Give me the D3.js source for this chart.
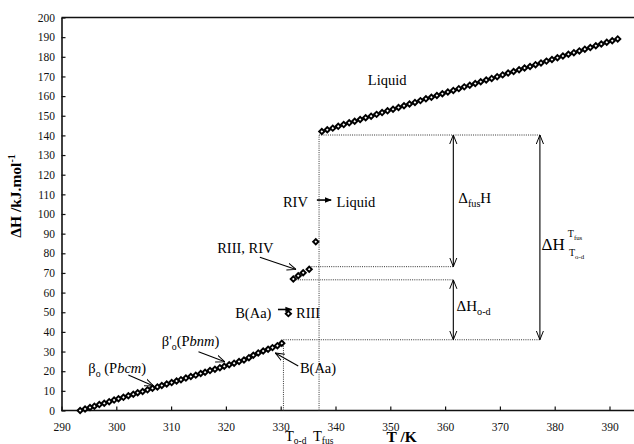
<!DOCTYPE html>
<html>
<head>
<meta charset="utf-8">
<script src="https://cdn.jsdelivr.net/npm/d3@7"></script>
<style>
  body { margin: 0; background: #fff; }
  svg { display: block; }
  text { font-family: "Liberation Serif", "DejaVu Serif", serif; }
</style>
</head>
<body>
<svg id="chart" width="634" height="444"></svg>
<script>
'use strict';

// solid phases (beta_o, beta'_o, B(Aa)) up to T o-d
var lowT = [293.4, 294.3, 295.2, 296.0, 296.9, 297.8, 298.7, 299.6, 300.4, 301.3,
            302.2, 303.1, 303.9, 304.8, 305.7, 306.6, 307.5, 308.3, 309.2, 310.1,
            311.0, 311.8, 312.7, 313.6, 314.5, 315.4, 316.2, 317.1, 318.0, 318.9,
            319.7, 320.6, 321.5, 322.4, 323.3, 324.2, 325.0, 325.9, 326.8, 327.7,
            328.5, 329.4, 330.2];
var lowH = [0.0, 0.8, 1.5, 2.2, 3.0, 3.7, 4.5, 5.3, 6.0, 6.7,
            7.5, 8.3, 9.0, 9.7, 10.5, 11.3, 12.0, 12.7, 13.5, 14.2,
            15.0, 15.7, 16.5, 17.3, 18.0, 18.8, 19.5, 20.3, 21.0, 21.8,
            22.5, 23.3, 24.1, 24.9, 25.7, 26.9, 28.1, 29.3, 30.3, 31.2,
            32.0, 33.0, 34.2];

// RIII, RIV cluster
var rotT = [332.3, 333.2, 334.1, 335.2];
var rotH = [66.9, 68.6, 70.1, 71.9];

// single transition points: B(Aa) -> RIII, RIV -> Liquid
var soloT = [331.4, 336.4];
var soloH = [49.3, 85.9];

// liquid
var liqT = [337.5, 338.5, 339.5, 340.5, 341.5, 342.5, 343.5, 344.5, 345.5, 346.5,
            347.5, 348.5, 349.5, 350.5, 351.5, 352.5, 353.5, 354.5, 355.5, 356.5,
            357.5, 358.5, 359.5, 360.5, 361.5, 362.5, 363.5, 364.5, 365.5, 366.5,
            367.5, 368.5, 369.5, 370.5, 371.5, 372.5, 373.5, 374.5, 375.5, 376.5,
            377.5, 378.5, 379.5, 380.5, 381.5, 382.5, 383.5, 384.5, 385.5, 386.5,
            387.5, 388.5, 389.5, 390.5, 391.5];
var liqH = [142.0, 142.9, 143.7, 144.6, 145.5, 146.4, 147.2, 148.1, 149.0, 149.8,
            150.7, 151.6, 152.5, 153.3, 154.2, 155.1, 156.0, 156.8, 157.7, 158.6,
            159.4, 160.3, 161.2, 162.1, 162.9, 163.8, 164.7, 165.5, 166.4, 167.3,
            168.2, 169.0, 169.9, 170.8, 171.7, 172.5, 173.4, 174.3, 175.1, 176.0,
            176.9, 177.8, 178.6, 179.5, 180.4, 181.3, 182.1, 183.0, 183.9, 184.7,
            185.6, 186.5, 187.4, 188.2, 189.1];

var xTicks = [290, 300, 310, 320, 330, 340, 350, 360, 370, 380, 390];
var yTicks = [0, 10, 20, 30, 40, 50, 60, 70, 80, 90, 100, 110, 120, 130, 140,
              150, 160, 170, 180, 190, 200];

var tOD = 330.5, tFus = 337.0;
var hMelt = 140.2, hR4 = 73.2, hR3 = 66.5, hOD = 36.0;
var tArrow1 = 361.5, tArrow2 = 377.3;

var svg = d3.select('#chart');
var x = d3.scaleLinear().domain([290, 390]).range([61.5, 609.5]);
var y = d3.scaleLinear().domain([0, 200]).range([410.5, 17.5]);

// arrowheads
var defs = svg.append('defs');
defs.append('marker').attr('id', 'open').attr('markerUnits', 'userSpaceOnUse')
  .attr('viewBox', '0 0 10 10').attr('refX', 10).attr('refY', 5)
  .attr('markerWidth', 9).attr('markerHeight', 9).attr('orient', 'auto-start-reverse')
  .append('path').attr('d', 'M0,1 L10,5 L0,9').attr('fill', 'none')
  .attr('stroke', '#000').attr('stroke-width', 1.1);
defs.append('marker').attr('id', 'solid').attr('markerUnits', 'userSpaceOnUse')
  .attr('viewBox', '0 0 10 10').attr('refX', 9).attr('refY', 5)
  .attr('markerWidth', 7).attr('markerHeight', 7).attr('orient', 'auto')
  .append('path').attr('d', 'M0,1 L10,5 L0,9 Z').attr('fill', '#000');

// frame
svg.append('line').attr('x1', x(290)).attr('x2', 640).attr('y1', y(200)).attr('y2', y(200))
  .attr('stroke', '#111').attr('stroke-width', 1.6);

var xAxis = svg.append('g').attr('transform', `translate(0,${y(0)})`)
  .call(d3.axisBottom(x).tickValues(xTicks).tickSize(-4).tickSizeOuter(0).tickPadding(12.5));
xAxis.select('.domain').attr('d', `M${x(290)},0H640`);
var yAxis = svg.append('g').attr('transform', `translate(${x(290)},0)`)
  .call(d3.axisLeft(y).tickValues(yTicks).tickSize(-4).tickSizeOuter(0).tickPadding(6.5));
[xAxis, yAxis].forEach(function(g) {
  g.attr('font-family', null);
  g.select('.domain').attr('stroke', '#111').attr('stroke-width', 1.6);
  g.selectAll('.tick line').attr('stroke', '#111').attr('stroke-width', 1.2);
  g.selectAll('.tick text').attr('font-size', 11.5).attr('fill', '#111');
});

// dotted guides
var dotted = [
  [tOD, 0, tOD, hOD], [tFus, 0, tFus, hMelt],
  [tFus, hMelt, tArrow2, hMelt], [rotT[3], hR4, tArrow1, hR4],
  [rotT[0], hR3, tArrow1, hR3], [tOD, hOD, tArrow2, hOD]
];
svg.append('g').selectAll('line').data(dotted).join('line')
  .attr('x1', d => x(d[0])).attr('y1', d => y(d[1]))
  .attr('x2', d => x(d[2])).attr('y2', d => y(d[3]))
  .attr('stroke', '#333').attr('stroke-width', 1).attr('stroke-dasharray', '1,1.2');

// double arrows
var spans = [[tArrow1, hMelt, hR4], [tArrow1, hR3, hOD], [tArrow2, hMelt, hOD]];
svg.append('g').selectAll('line').data(spans).join('line')
  .attr('x1', d => x(d[0])).attr('x2', d => x(d[0]))
  .attr('y1', d => y(d[1])).attr('y2', d => y(d[2]))
  .attr('stroke', '#000').attr('stroke-width', 1.1)
  .attr('marker-start', 'url(#open)').attr('marker-end', 'url(#open)');

// pointer arrows (label -> data)
var pointers = [
  [[302.2, 18.1], [306.8, 12.5]],
  [[315.0, 29.9], [319.8, 24.8]],
  [[333.2, 22.6], [329.0, 29.3]],
  [[326.2, 78.0], [332.8, 71.8]]
];
svg.append('g').selectAll('line').data(pointers).join('line')
  .attr('x1', d => x(d[0][0])).attr('y1', d => y(d[0][1]))
  .attr('x2', d => x(d[1][0])).attr('y2', d => y(d[1][1]))
  .attr('stroke', '#000').attr('stroke-width', 1.1).attr('marker-end', 'url(#open)');

// transition arrows
var trans = [[[329.5, 51.4], [332.0, 51.4]], [[336.6, 107.1], [339.2, 107.1]]];
svg.append('g').selectAll('line').data(trans).join('line')
  .attr('x1', d => x(d[0][0])).attr('y1', d => y(d[0][1]))
  .attr('x2', d => x(d[1][0])).attr('y2', d => y(d[1][1]))
  .attr('stroke', '#000').attr('stroke-width', 1.6).attr('marker-end', 'url(#solid)');

// data markers
var pts = [];
lowT.forEach((t, i) => pts.push([t, lowH[i]]));
rotT.forEach((t, i) => pts.push([t, rotH[i]]));
soloT.forEach((t, i) => pts.push([t, soloH[i]]));
liqT.forEach((t, i) => pts.push([t, liqH[i]]));
var sym = d3.symbol(d3.symbolSquare, 14);
svg.append('g').selectAll('path').data(pts).join('path')
  .attr('d', sym)
  .attr('transform', d => `translate(${x(d[0])},${y(d[1])}) rotate(45)`)
  .attr('fill', '#fff').attr('stroke', '#000').attr('stroke-width', 1.9);

// text helper: parts = [text, mode] with mode '', 'sub', 'i'
function label(t, h, parts, size, extra) {
  var txt = svg.append('text').attr('x', x(t)).attr('y', y(h))
    .attr('font-size', size).attr('fill', '#000');
  if (extra) extra(txt);
  var shift = 0;
  parts.forEach(function(p) {
    var ts = txt.append('tspan').text(p[0]);
    var want = 0;
    if (p[1] === 'sub') { ts.attr('font-size', size * 0.68); want = size * 0.28; }
    if (p[1] === 'i') ts.attr('font-style', 'italic');
    if (want !== shift) { ts.attr('dy', want - shift); shift = want; }
  });
  return txt;
}

label(345.9, 165.6, [['Liquid']], 14.5);
label(330.4, 103.8, [['RIV']], 14.5);
label(340.2, 103.8, [['Liquid']], 14.5);
label(328.7, 80.2, [['RIII, RIV']], 14.5, t => t.attr('text-anchor', 'end'));
label(321.7, 47.1, [['B(Aa)']], 14.5);
label(332.8, 47.1, [['RIII']], 14.5);
label(333.5, 19.1, [['B(Aa)']], 14.5);
label(308.3, 32.8, [["β'"], ['o', 'sub'], ['(P'], ['bnm', 'i'], [')']], 14.5);
label(294.9, 19.1, [['β'], ['o', 'sub'], [' (P'], ['bcm', 'i'], [')']], 14.5);
label(362.4, 105.6, [['Δ'], ['fus', 'sub'], ['H']], 15);
label(362.1, 50.6, [['ΔH'], ['o-d', 'sub']], 15);
label(377.6, 81.7, [['ΔH']], 17);
label(382.4, 88.3, [['T'], ['fus', 'sub']], 10);
label(382.6, 78.6, [['T'], ['o-d', 'sub']], 10);

// x-axis extra labels
svg.append('text').attr('x', 285).attr('y', 441).attr('font-size', 14.5)
  .call(t => { t.append('tspan').text('T'); t.append('tspan').text('o-d').attr('font-size', 9.5).attr('dy', 3); });
svg.append('text').attr('x', 313).attr('y', 441).attr('font-size', 14.5)
  .call(t => { t.append('tspan').text('T'); t.append('tspan').text('fus').attr('font-size', 9.5).attr('dy', 3); });
svg.append('text').attr('x', 386.5).attr('y', 442).attr('font-size', 15.5)
  .attr('font-weight', 'bold').text('T /K');

// y-axis title
svg.append('text').attr('transform', 'translate(21,196) rotate(-90)')
  .attr('text-anchor', 'middle').attr('font-size', 15.5).attr('font-weight', 'bold')
  .call(t => {
    t.append('tspan').text('ΔH /kJ.mol');
    t.append('tspan').text('-1').attr('font-size', 10).attr('dy', -6);
  });
</script>
</body>
</html>
